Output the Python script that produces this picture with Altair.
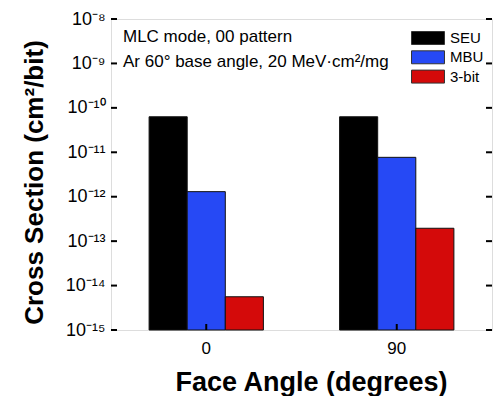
import altair as alt
import pandas as pd

FONT = "Liberation Sans"

angles = ["0", "90"]
types = ["SEU", "MBU", "3-bit"]
seu = [6.3e-11, 6.3e-11]
mbu = [1.3e-12, 7.7e-12]
tri = [5.6e-15, 1.95e-13]
colors = ["#000000", "#2649f5", "#d40a0a"]

y_ticks = [1e-8, 1e-9, 1e-10, 1e-11, 1e-12, 1e-13, 1e-14, 1e-15]
exps = [-8, -9, -10, -11, -12, -13, -14, -15]
y_labels = ["10⁻⁸", "10⁻⁹", "10⁻¹⁰", "10⁻¹¹", "10⁻¹²", "10⁻¹³", "10⁻¹⁴", "10⁻¹⁵"]
x_title = "Face Angle (degrees)"
y_title = "Cross Section (cm²/bit)"
notes = ["MLC mode, 00 pattern", "Ar 60° base angle, 20 MeV·cm²/mg"]

rows = []
for i, a in enumerate(angles):
    for t, vals in zip(types, [seu, mbu, tri]):
        rows.append({"angle": a, "type": t, "value": vals[i]})
df = pd.DataFrame(rows)

W, H = 381, 311

label_expr = ""
for e, lab in zip(exps, y_labels):
    label_expr += f"round(log(datum.value)/LN10) == {e} ? '{lab}' : "
label_expr += "''"

xscale = alt.Scale(domain=angles, paddingInner=0.4, paddingOuter=0.2)

bars = alt.Chart(df).mark_bar(stroke="#111111", strokeWidth=1, opacity=1).encode(
    x=alt.X("angle:N", sort=angles, scale=xscale,
            axis=alt.Axis(title=x_title, labelAngle=0, ticks=False, tickSize=0, domain=False,
                          labelFont=FONT, labelFontSize=17, labelPadding=10, labelColor="black",
                          titleFont=FONT, titleFontSize=27, titleFontWeight="bold", titleColor="black",
                          titleX=200, titleY=60, titleBaseline="alphabetic")),
    xOffset=alt.XOffset("type:N", sort=types, scale=alt.Scale(domain=types, paddingInner=0, paddingOuter=0)),
    y=alt.Y("value:Q", scale=alt.Scale(type="log", domain=[1e-15, 1e-8], nice=False),
            axis=alt.Axis(title=y_title, values=y_ticks, labelExpr=label_expr, ticks=False, tickSize=0,
                          domain=False, grid=False, labelFont=FONT, labelFontSize=18, labelPadding=6,
                          labelColor="black", titleFont=FONT, titleFontSize=26, titleFontWeight="bold",
                          titleColor="black", titleX=-69, titleY=163, titleBaseline="alphabetic",
                          titleAngle=270)),
    y2=alt.Y2(datum=1e-15),
    color=alt.Color("type:N", sort=types, scale=alt.Scale(domain=types, range=colors),
                    legend=alt.Legend(title=None, orient="none", legendX=308.5, legendY=10.5,
                                      symbolType="M-2.06,-0.81H2.06V0.81H-2.06Z", symbolSize=256,
                                      symbolStrokeColor="#333333", symbolStrokeWidth=1, symbolOpacity=1,
                                      labelFont=FONT, labelFontSize=15, labelOffset=13.5, rowPadding=2.3,
                                      padding=0, labelColor="black")),
)

ytick_df = pd.DataFrame({"value": y_ticks})
left_ticks = alt.Chart(ytick_df).mark_rule(color="black", strokeWidth=2).encode(
    y=alt.Y("value:Q"), x=alt.value(0), x2=alt.value(6))
right_ticks = alt.Chart(ytick_df).mark_rule(color="black", strokeWidth=2).encode(
    y=alt.Y("value:Q"), x=alt.value(W - 6), x2=alt.value(W))
xtick_df = pd.DataFrame({"angle": angles})
bottom_ticks = alt.Chart(xtick_df).mark_rule(color="black", strokeWidth=2).encode(
    x=alt.X("angle:N", sort=angles, bandPosition=0.5), y=alt.value(H), y2=alt.value(H - 6))

note1 = alt.Chart(pd.DataFrame({"t": [notes[0]]})).mark_text(
    align="left", baseline="alphabetic", font=FONT, fontSize=17, color="black").encode(
    x=alt.value(12), y=alt.value(23), text="t:N")
note2 = alt.Chart(pd.DataFrame({"t": [notes[1]]})).mark_text(
    align="left", baseline="alphabetic", font=FONT, fontSize=17, color="black").encode(
    x=alt.value(12), y=alt.value(48), text="t:N")

chart = alt.layer(bars, left_ticks, right_ticks, bottom_ticks, note1, note2).properties(
    width=W, height=H,
    autosize=alt.AutoSizeParams(type="none"),
    padding={"left": 103, "top": 11, "right": 1, "bottom": 66},
).configure_view(stroke="black", strokeWidth=2).configure(background="white")

chart.save("out.html", embed_options={"renderer": "svg", "actions": False})
